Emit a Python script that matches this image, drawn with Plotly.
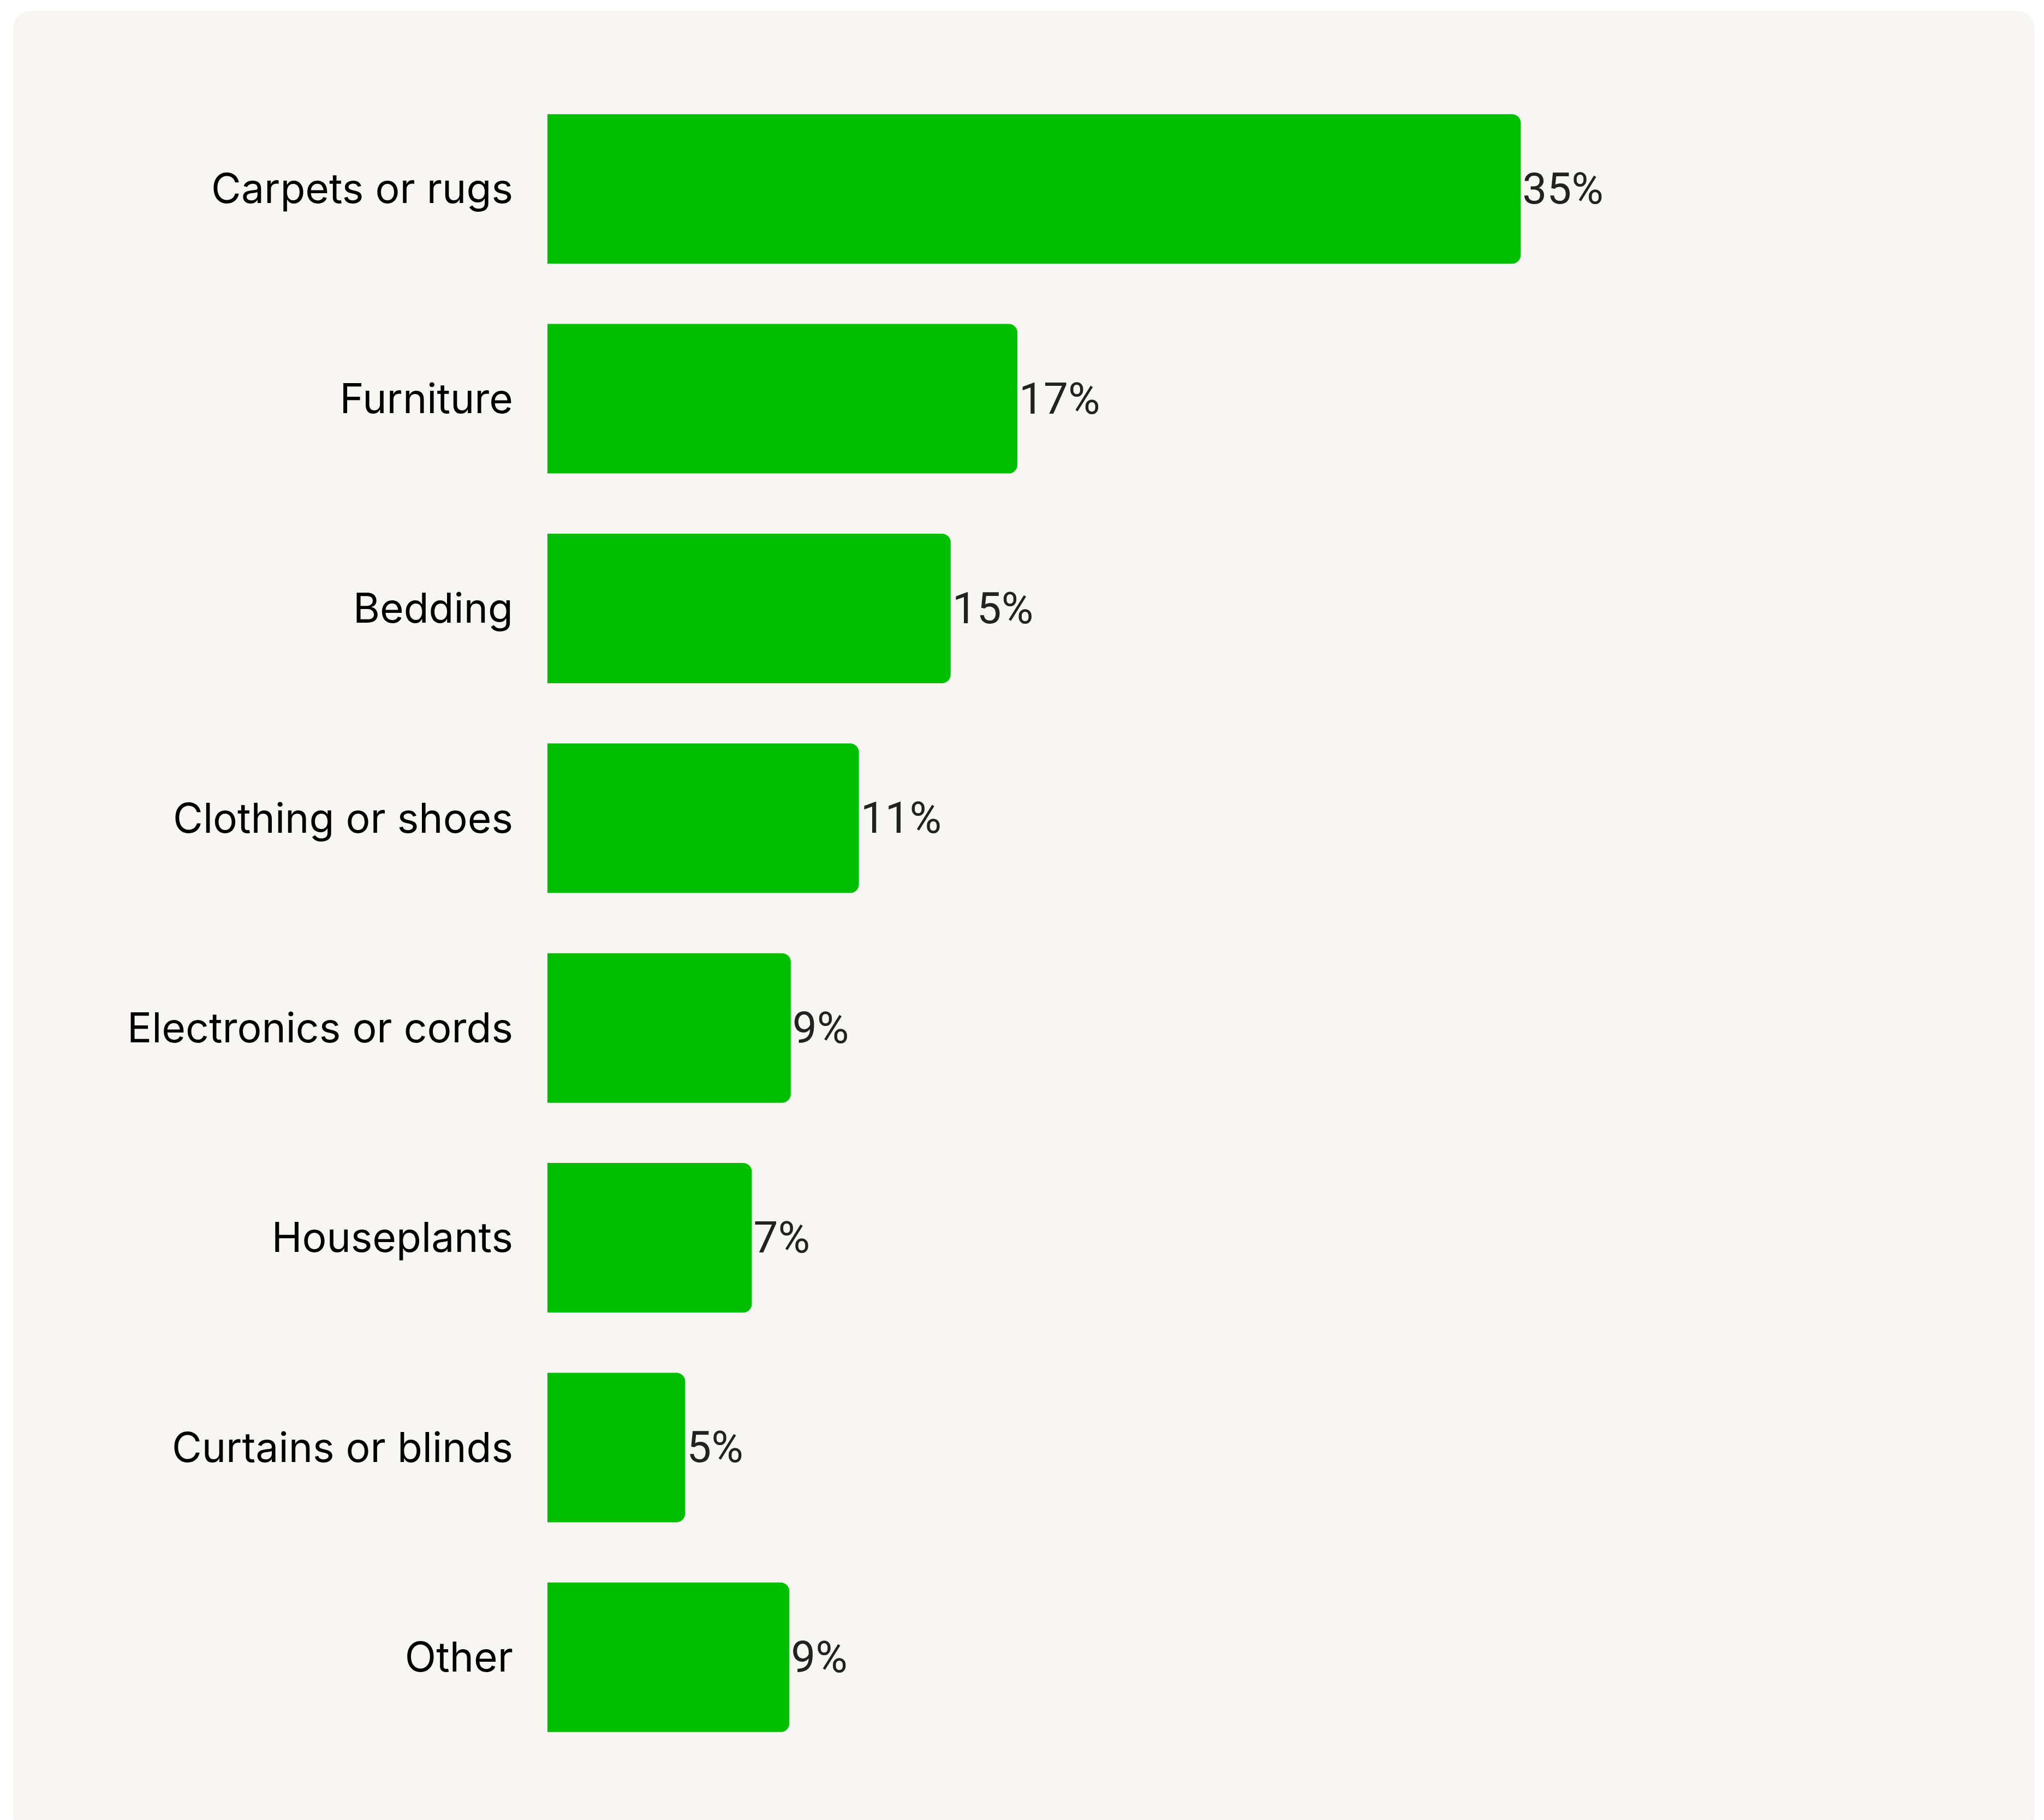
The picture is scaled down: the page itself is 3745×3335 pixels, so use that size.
import plotly.graph_objects as go

categories = ["Carpets or rugs", "Furniture", "Bedding", "Clothing or shoes",
              "Electronics or cords", "Houseplants", "Curtains or blinds", "Other"]
values = [35.0, 16.9, 14.5, 11.2, 8.75, 7.35, 4.95, 8.7]
value_labels = ["35%", "17%", "15%", "11%", "9%", "7%", "5%", "9%"]

# page is offset by the 8px body margin
OFF = 8
W, H = 3745 - 2 * OFF, 3335 - OFF
L, R, T, B = 1003 - OFF, 704 - OFF, 154 - OFF, 106
BAR = "#00BE00"
CARD = "#F7F6F2"

fig = go.Figure(go.Bar(
    x=values, y=categories, orientation="h",
    marker=dict(color=BAR, line=dict(width=0), cornerradius=16),
    text=value_labels, textposition="outside", cliponaxis=False,
    textfont=dict(family="Roboto", size=80, color="#222222"),
    constraintext="none", hoverinfo="skip",
))

# rounded card background (computed in pixel space, converted to paper coords)
pw, ph = W - L - R, H - T - B
def px(x): return (x - OFF - L) / pw
def py(y): return (H - B - (y - OFF)) / ph
x0, y0, x1, y1, r = 24, 20, 3728, 3360, 36
path = (f"M{px(x0+r)},{py(y0)} L{px(x1-r)},{py(y0)} Q{px(x1)},{py(y0)} {px(x1)},{py(y0+r)} "
        f"L{px(x1)},{py(y1-r)} Q{px(x1)},{py(y1)} {px(x1-r)},{py(y1)} "
        f"L{px(x0+r)},{py(y1)} Q{px(x0)},{py(y1)} {px(x0)},{py(y1-r)} "
        f"L{px(x0)},{py(y0+r)} Q{px(x0)},{py(y0)} {px(x0+r)},{py(y0)} Z")
fig.add_shape(type="path", path=path, xref="paper", yref="paper",
              fillcolor=CARD, line=dict(width=0), layer="below")

fig.update_layout(
    width=W, height=H,
    margin=dict(l=L, r=R, t=T, b=B, autoexpand=False),
    paper_bgcolor="white", plot_bgcolor="rgba(0,0,0,0)",
    showlegend=False, bargap=0.287,
    font=dict(family="Inter", color="#000000"),
    xaxis=dict(range=[0, 40], visible=False, fixedrange=True),
    yaxis=dict(autorange="reversed", showgrid=False, zeroline=False, showline=False,
               ticks="", ticklabelstandoff=62,
               tickfont=dict(family="Inter", size=75, color="#000000")),
)

fig.write_html("out.html")
